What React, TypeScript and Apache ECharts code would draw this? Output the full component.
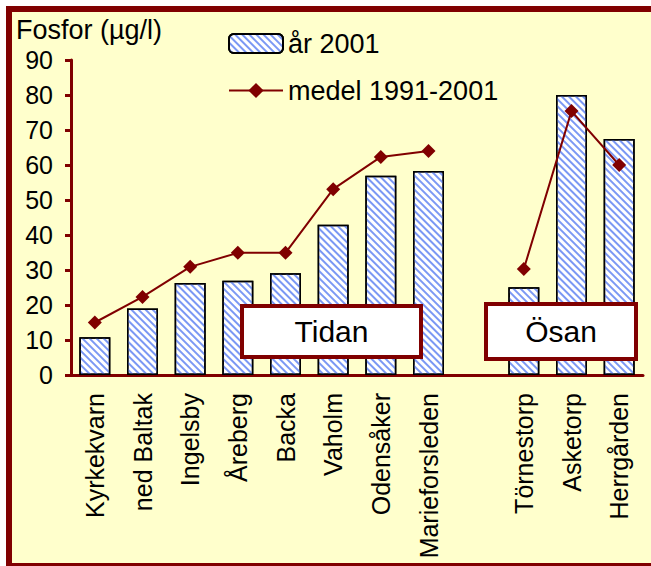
import React, { useEffect, useRef } from "react";
import * as echarts from "echarts";

const categories = [
  "Kyrkekvarn", "ned Baltak", "Ingelsby", "Åreberg", "Backa", "Vaholm",
  "Odensåker", "Marieforsleden", "", "Törnestorp", "Asketorp", "Herrgården",
];
const year2001 = [10.8, 19, 26.3, 26.9, 29.1, 42.9, 56.9, 58.3, null, 25.1, 80, 67.4];
const mean19912001 = [15, 22.3, 30.9, 34.9, 34.9, 53.1, 62.3, 64, null, 30.3, 75.4, 60];
const seriesNames = ["år 2001", "medel 1991-2001"];
const yTitle = "Fosfor (µg/l)";
const groupLabels = ["Tidan", "Ösan"];

const FONT = "'Liberation Sans', Arial, sans-serif";
const DARK_RED = "#800000";

export default function App() {
  const ref = useRef<HTMLDivElement>(null);
  useEffect(() => {
    document.body.style.margin = "0";
    const chart = echarts.init(ref.current!, null, { renderer: "svg" });
    chart.setOption({
      animation: false,
      backgroundColor: "#ffffff",
      textStyle: { fontFamily: FONT },
      grid: { left: 71, right: 8, top: 60, bottom: 191, containLabel: false },
      legend: {
        orient: "vertical",
        left: 223,
        top: 25,
        itemWidth: 54,
        itemHeight: 19,
        itemGap: 20,
        textStyle: { fontSize: 27, color: "#000", fontFamily: FONT },
        data: seriesNames,
      },
      xAxis: {
        type: "category",
        data: categories,
        axisLine: { lineStyle: { color: DARK_RED, width: 3 } },
        axisTick: { show: false },
        axisLabel: {
          interval: 0,
          rotate: 90,
          margin: 18,
          fontSize: 25,
          color: "#000",
          fontFamily: FONT,
        },
      },
      yAxis: {
        type: "value",
        min: 0,
        max: 90,
        interval: 10,
        splitLine: { show: false },
        axisLine: { show: true, lineStyle: { color: DARK_RED, width: 3 } },
        axisTick: { show: true, length: 6, lineStyle: { color: DARK_RED, width: 3 } },
        axisLabel: { fontSize: 25, color: "#000", margin: 18, fontFamily: FONT },
      },
      series: [
        {
          name: seriesNames[0],
          type: "bar",
          data: year2001,
          barWidth: 31,
          itemStyle: {
            color: "#ffffff",
            borderColor: "#000",
            borderWidth: 1.5,
            decal: {
              symbol: "rect",
              symbolSize: 1,
              color: "#7b98f4",
              dashArrayX: [1, 0],
              dashArrayY: [2, 2.5],
              rotation: Math.PI / 4,
            },
          },
        },
        {
          name: seriesNames[1],
          type: "line",
          data: mean19912001,
          connectNulls: false,
          symbol: "diamond",
          symbolSize: 14,
          lineStyle: { color: DARK_RED, width: 2 },
          itemStyle: { color: DARK_RED },
          z: 5,
        },
      ],
      graphic: [
        {
          type: "rect",
          z: -10,
          silent: true,
          shape: { x: 9, y: 9, width: 700, height: 557 },
          style: { fill: "#FFFFCC", stroke: DARK_RED, lineWidth: 6 },
        },
        {
          type: "text",
          z: 100,
          left: 16,
          top: 16,
          style: { text: yTitle, fill: "#000", font: `27px ${FONT}` },
        },
        {
          type: "group",
          z: 100,
          children: [
            {
              type: "rect",
              z: 100,
              shape: { x: 242, y: 306, width: 179, height: 51 },
              style: { fill: "#ffffff", stroke: DARK_RED, lineWidth: 4 },
            },
            {
              type: "text",
              z: 101,
              x: 331.5,
              y: 331.5,
              style: {
                text: groupLabels[0],
                font: `30px ${FONT}`,
                fill: "#000",
                align: "center",
                verticalAlign: "middle",
              },
            },
            {
              type: "rect",
              z: 100,
              shape: { x: 486, y: 304, width: 150, height: 55 },
              style: { fill: "#ffffff", stroke: DARK_RED, lineWidth: 4 },
            },
            {
              type: "text",
              z: 101,
              x: 561,
              y: 331.5,
              style: {
                text: groupLabels[1],
                font: `30px ${FONT}`,
                fill: "#000",
                align: "center",
                verticalAlign: "middle",
              },
            },
          ],
        },
      ],
    });
    return () => chart.dispose();
  }, []);
  return (
    <div
      ref={ref}
      style={{ position: "absolute", left: 0, top: 0, width: 651, height: 566 }}
    />
  );
}
